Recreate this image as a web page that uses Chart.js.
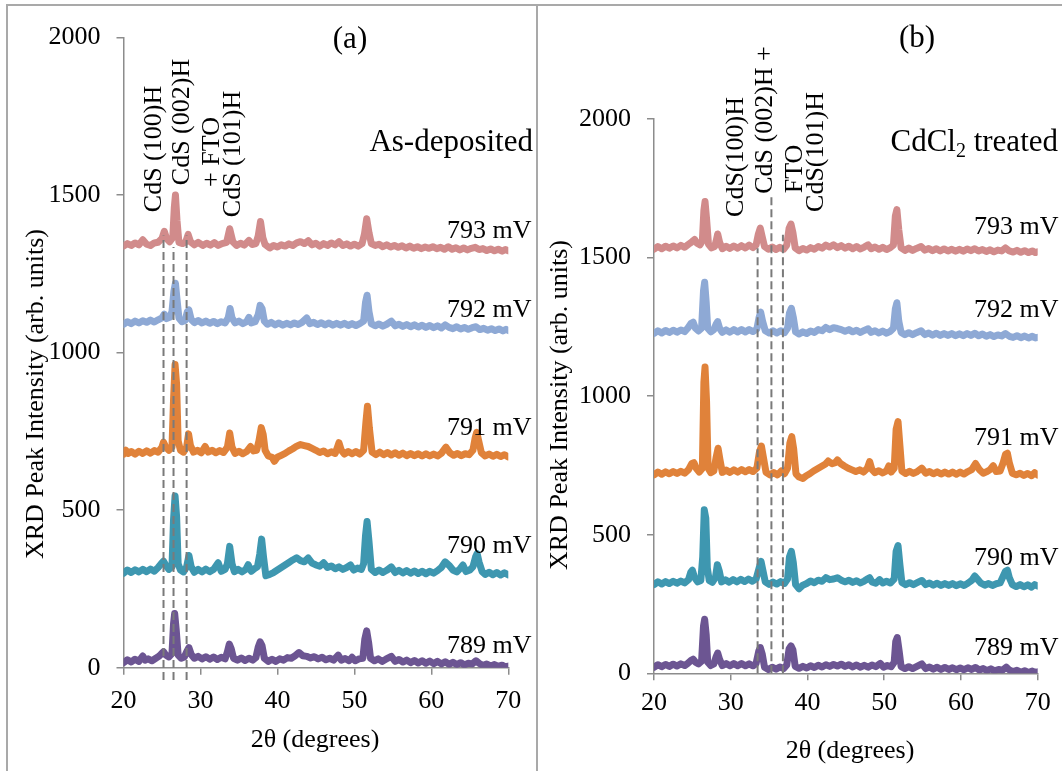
<!DOCTYPE html>
<html lang="en">
<head>
  <meta charset="UTF-8" />
  <title>XRD patterns of CdS layers</title>
  <script src="https://cdn.jsdelivr.net/npm/chart.js"></script>
  <style>
    body { margin:0; width:1062px; height:771px; overflow:hidden; background:#fff; position:relative;
           font-family:'Liberation Serif','Times New Roman',serif; color:#000; }
    .frame { position:absolute; left:6px; top:4px; width:1200px; height:900px; border:2px solid #a9a9a9; }
    .divider { position:absolute; left:536px; top:5px; width:2px; height:800px; background:#a9a9a9; }
    .panel { position:absolute; top:0; height:771px; }
    .t { position:absolute; white-space:nowrap; line-height:1; font-size:26px; }
    .c { transform:translate(-50%,-50%); }
    .v { transform:translate(-50%,-50%) rotate(-90deg); }
    .l { transform:translateY(-50%); }
    .big { font-size:31px; }
  </style>
</head>
<body>
  <div class="frame"></div>
  <div class="divider"></div>
  <div class="panel" style="left:0;width:537px"><canvas id="chartA"></canvas></div>
  <div class="panel" style="left:537px;width:525px"><canvas id="chartB"></canvas></div>

  <!-- panel (a) texts -->
  <div class="t v" style="left:34.5px;top:394px">XRD Peak Intensity (arb. units)</div>
  <div class="t c" style="left:315px;top:739px">2θ (degrees)</div>
  <div class="t big c" style="left:350px;top:37px">(a)</div>
  <div class="t big l" style="right:529px;top:140px">As-deposited</div>
  <div class="t l" style="left:447px;top:230px">793 mV</div>
  <div class="t l" style="left:447px;top:309px">792 mV</div>
  <div class="t l" style="left:447px;top:427px">791 mV</div>
  <div class="t l" style="left:447px;top:545px">790 mV</div>
  <div class="t l" style="left:447px;top:645px">789 mV</div>
  <div class="t v" style="left:153px;top:149px">CdS (100)H</div>
  <div class="t v" style="left:181px;top:122px">CdS (002)H</div>
  <div class="t v" style="left:211px;top:152px">+ FTO</div>
  <div class="t v" style="left:232px;top:154px">CdS (101)H</div>

  <!-- panel (b) texts -->
  <div class="t v" style="left:559px;top:405px">XRD Peak Intensity (arb. units)</div>
  <div class="t c" style="left:850px;top:750px">2θ (degrees)</div>
  <div class="t big c" style="left:917px;top:36px">(b)</div>
  <div class="t big l" style="right:4px;top:142px">CdCl<sub style="font-size:20px;vertical-align:-6px">2</sub> treated</div>
  <div class="t l" style="left:974px;top:226px">793 mV</div>
  <div class="t l" style="left:974px;top:309px">792 mV</div>
  <div class="t l" style="left:974px;top:437px">791 mV</div>
  <div class="t l" style="left:974px;top:557px">790 mV</div>
  <div class="t l" style="left:974px;top:647px">789 mV</div>
  <div class="t v" style="left:735px;top:157px">CdS(100)H</div>
  <div class="t v" style="left:764px;top:120px">CdS (002)H +</div>
  <div class="t v" style="left:794px;top:169px">FTO</div>
  <div class="t v" style="left:815px;top:152px">CdS(101)H</div>

  <script>
    // series labels and colours (top to bottom)
    const voltages = ['793 mV', '792 mV', '791 mV', '790 mV', '789 mV'];
    const colors = ['#d18b8b', '#8ea9d5', '#e0823a', '#3e97b0', '#6c5592'];

    // (a) as-deposited: [2theta, intensity]
    const a793 = [[20,1338],[20.5,1346],[21,1340],[21.5,1348],[22,1342],[22.5,1358],[23,1344],[23.5,1340],[24,1348],[24.5,1350],[25.0,1362],[25.3,1385],[25.6,1362],[26.0,1352],[26.4,1365],[26.6,1460],[26.75,1500],[26.95,1420],[27.2,1350],[27.7,1346],[28.1,1352],[28.4,1375],[28.7,1352],[29.2,1342],[29.7,1350],[30.3,1340],[30.8,1347],[31.3,1341],[31.8,1349],[32.3,1340],[32.8,1346],[33.4,1350],[33.8,1393],[34.2,1352],[34.7,1340],[35.2,1347],[35.7,1341],[36.3,1356],[36.7,1343],[37.2,1346],[37.5,1370],[37.8,1416],[38.1,1365],[38.4,1343],[39,1332],[39.5,1340],[40,1335],[40.5,1342],[41,1338],[41.5,1345],[42,1340],[42.5,1348],[43,1352],[43.5,1346],[44,1355],[44.5,1342],[45,1347],[45.5,1338],[46,1346],[46.5,1340],[47,1348],[47.5,1342],[48,1352],[48.5,1340],[49,1345],[49.5,1338],[50,1344],[50.5,1338],[51,1346],[51.3,1375],[51.6,1425],[51.9,1380],[52.2,1346],[52.7,1340],[53.2,1344],[53.7,1336],[54.2,1342],[54.7,1335],[55.2,1340],[55.7,1334],[56.2,1339],[56.7,1332],[57.2,1338],[57.7,1331],[58.2,1336],[58.7,1330],[59.2,1335],[59.7,1331],[60.2,1336],[60.7,1330],[61.2,1334],[61.7,1328],[62.2,1336],[62.7,1328],[63.2,1333],[63.7,1326],[64.2,1332],[64.7,1326],[65.2,1331],[65.7,1334],[66.2,1327],[66.7,1330],[67.2,1324],[67.7,1329],[68.2,1323],[68.7,1328],[69.2,1322],[69.6,1327],[70,1323]];
    const a792 = [[20,1090],[20.5,1098],[21,1092],[21.5,1100],[22,1094],[22.5,1101],[23,1096],[23.5,1103],[24,1097],[24.5,1104],[25,1110],[25.3,1122],[25.6,1108],[26.0,1112],[26.3,1130],[26.55,1195],[26.75,1220],[26.95,1170],[27.2,1110],[27.6,1098],[28.0,1102],[28.3,1130],[28.5,1135],[28.8,1105],[29.2,1095],[29.7,1102],[30.2,1094],[30.7,1100],[31.2,1093],[31.7,1099],[32.2,1092],[32.7,1098],[33.2,1094],[33.6,1110],[33.85,1140],[34.1,1110],[34.5,1094],[35,1100],[35.5,1092],[36,1098],[36.3,1112],[36.6,1094],[37.1,1098],[37.5,1120],[37.75,1150],[38.0,1140],[38.3,1100],[38.7,1090],[39.2,1096],[39.7,1088],[40.2,1094],[40.7,1087],[41.2,1093],[41.7,1088],[42.2,1094],[42.7,1089],[43.2,1096],[43.8,1110],[44.2,1092],[44.7,1096],[45.2,1089],[45.7,1095],[46.2,1088],[46.7,1094],[47.2,1087],[47.7,1093],[48.2,1087],[48.7,1093],[49.2,1086],[49.7,1092],[50.2,1086],[50.7,1092],[51.2,1100],[51.45,1160],[51.65,1182],[51.9,1130],[52.2,1092],[52.7,1085],[53.2,1091],[53.7,1084],[54.2,1090],[54.8,1100],[55.3,1085],[55.8,1090],[56.3,1083],[56.8,1089],[57.3,1082],[57.8,1088],[58.3,1081],[58.8,1087],[59.3,1080],[59.8,1086],[60.3,1079],[60.8,1085],[61.3,1078],[61.8,1088],[62.3,1080],[62.8,1076],[63.3,1082],[63.8,1075],[64.3,1080],[64.8,1074],[65.3,1079],[65.8,1082],[66.3,1073],[66.8,1077],[67.3,1071],[67.8,1076],[68.3,1070],[68.8,1075],[69.3,1069],[69.7,1074],[70,1070]];
    const a791 = [[20,678],[20.3,690],[20.6,680],[21,686],[21.5,678],[22,687],[22.5,680],[23,688],[23.5,681],[24,689],[24.5,684],[25,700],[25.2,716],[25.5,700],[25.9,690],[26.3,700],[26.5,850],[26.7,962],[26.9,900],[27.1,720],[27.4,690],[27.8,684],[28.2,700],[28.45,742],[28.7,705],[29.1,684],[29.6,690],[30.1,682],[30.6,702],[31,684],[31.5,690],[32,682],[32.5,689],[33,683],[33.5,700],[33.8,745],[34.1,700],[34.5,680],[35,687],[35.5,679],[36,686],[36.5,702],[36.9,688],[37.3,690],[37.6,720],[37.9,762],[38.15,740],[38.4,690],[38.8,672],[39.3,668],[39.6,655],[40,668],[40.5,674],[41,680],[41.5,688],[42,695],[42.5,703],[43,708],[43.5,705],[44,702],[44.5,696],[45,690],[45.5,683],[46,688],[46.5,679],[47,685],[47.5,680],[47.8,700],[48.0,714],[48.3,690],[48.7,678],[49.2,686],[49.7,679],[50.2,686],[50.7,678],[51.2,690],[51.5,780],[51.7,830],[51.95,760],[52.3,684],[52.8,676],[53.3,684],[53.8,676],[54.3,683],[54.8,675],[55.3,682],[55.8,674],[56.3,681],[56.8,673],[57.3,680],[57.8,673],[58.3,679],[58.8,672],[59.3,679],[59.8,672],[60.3,678],[60.8,672],[61.3,680],[61.9,700],[62.4,682],[62.9,674],[63.4,680],[63.9,673],[64.4,679],[64.9,676],[65.4,690],[65.7,730],[65.9,747],[66.15,720],[66.5,682],[67,672],[67.5,678],[68,671],[68.5,677],[69,670],[69.5,676],[70,669]];
    const a790 = [[20,300],[20.5,310],[21,302],[21.5,311],[22,304],[22.5,312],[23,305],[23.5,313],[24,306],[24.5,318],[24.9,330],[25.2,338],[25.5,325],[25.9,312],[26.3,320],[26.5,470],[26.7,545],[26.9,480],[27.1,330],[27.4,310],[27.8,304],[28.2,320],[28.5,356],[28.8,320],[29.2,303],[29.7,312],[30.2,304],[30.7,313],[31.2,305],[31.7,312],[32.3,333],[32.7,306],[33.2,312],[33.5,330],[33.8,385],[34.1,330],[34.4,305],[34.9,312],[35.4,304],[35.9,312],[36.2,327],[36.6,306],[37,314],[37.4,320],[37.7,360],[37.95,408],[38.2,350],[38.5,292],[39,296],[39.5,302],[40,310],[40.5,318],[41,326],[41.5,334],[42,342],[42.5,349],[43,340],[43.5,336],[44,348],[44.5,332],[45,326],[45.5,322],[46,333],[46.5,318],[47,323],[47.5,314],[48,320],[48.5,312],[49,318],[49.5,326],[49.9,310],[50.4,316],[50.9,312],[51.2,330],[51.45,420],[51.65,464],[51.9,400],[52.2,312],[52.7,302],[53.2,310],[53.7,302],[54.2,309],[54.8,320],[55.3,302],[55.8,309],[56.3,301],[56.8,308],[57.3,300],[57.8,307],[58.3,299],[58.8,306],[59.3,298],[59.8,306],[60.3,300],[60.8,308],[61.3,318],[61.8,336],[62.3,325],[62.8,310],[63.3,304],[63.8,316],[64.1,326],[64.5,305],[65,310],[65.4,320],[65.75,352],[65.95,362],[66.2,335],[66.6,305],[67,296],[67.5,303],[68,295],[68.5,302],[69,294],[69.5,301],[70,295]];
    const a789 = [[20,16],[20.5,25],[21,18],[21.5,27],[22,20],[22.5,37],[22.8,24],[23.2,28],[23.7,22],[24.2,30],[24.6,36],[25,46],[25.2,51],[25.5,40],[25.9,34],[26.3,45],[26.5,140],[26.65,172],[26.85,120],[27.1,40],[27.5,30],[27.9,34],[28.2,50],[28.5,64],[28.8,42],[29.2,30],[29.7,36],[30.2,28],[30.7,35],[31.2,27],[31.7,34],[32.2,26],[32.7,33],[33.2,28],[33.5,50],[33.75,75],[34.0,60],[34.3,30],[34.8,24],[35.3,31],[35.8,23],[36.3,30],[36.8,24],[37.2,32],[37.5,65],[37.75,82],[38.0,70],[38.3,30],[38.8,20],[39.3,27],[39.8,20],[40.3,28],[40.8,24],[41.3,32],[41.8,30],[42.3,38],[42.8,48],[43.3,38],[43.8,36],[44.3,31],[44.8,35],[45.3,28],[45.8,33],[46.3,25],[46.8,30],[47.3,24],[47.9,40],[48.3,24],[48.8,29],[49.3,22],[49.7,33],[50.1,22],[50.6,28],[51.1,30],[51.35,90],[51.6,117],[51.85,80],[52.1,30],[52.6,22],[53.1,28],[53.6,20],[54.1,27],[54.8,36],[55.3,20],[55.8,26],[56.3,18],[56.8,24],[57.3,16],[57.8,23],[58.3,15],[58.8,22],[59.3,14],[59.8,21],[60.3,13],[60.8,20],[61.3,12],[61.8,19],[62.3,11],[62.8,17],[63.3,10],[63.8,16],[64.3,9],[64.8,14],[65.3,12],[65.8,22],[66.2,14],[66.7,7],[67.2,12],[67.7,5],[68.2,10],[68.7,4],[69.2,8],[69.6,3],[70,5]];

    // (b) CdCl2 treated
    const b793 = [[20,1530],[20.5,1540],[21,1532],[21.5,1541],[22,1534],[22.5,1542],[23,1535],[23.5,1544],[24,1537],[24.5,1548],[24.9,1556],[25.3,1565],[25.6,1552],[26,1546],[26.3,1560],[26.5,1670],[26.65,1702],[26.85,1640],[27.1,1548],[27.5,1535],[27.9,1540],[28.1,1560],[28.3,1585],[28.55,1555],[28.9,1532],[29.4,1541],[29.9,1533],[30.4,1542],[30.9,1534],[31.4,1543],[31.9,1535],[32.4,1545],[32.9,1536],[33.3,1545],[33.6,1585],[33.85,1606],[34.1,1575],[34.4,1540],[34.9,1530],[35.4,1538],[35.9,1529],[36.4,1537],[36.9,1530],[37.3,1545],[37.6,1605],[37.85,1621],[38.1,1590],[38.4,1535],[38.9,1525],[39.4,1533],[39.9,1527],[40.4,1536],[40.9,1530],[41.4,1540],[41.9,1534],[42.4,1545],[42.9,1538],[43.4,1546],[43.9,1536],[44.4,1543],[44.9,1534],[45.4,1541],[45.9,1532],[46.4,1540],[46.9,1531],[47.4,1538],[47.9,1546],[48.3,1532],[48.8,1538],[49.3,1530],[49.8,1537],[50.3,1529],[50.8,1536],[51.2,1545],[51.45,1650],[51.65,1673],[51.9,1600],[52.2,1535],[52.7,1526],[53.2,1534],[53.7,1526],[54.2,1533],[54.8,1540],[55.3,1527],[55.8,1533],[56.3,1525],[56.8,1532],[57.3,1524],[57.8,1531],[58.3,1524],[58.8,1530],[59.3,1523],[59.8,1530],[60.3,1523],[60.8,1531],[61.3,1525],[61.8,1532],[62.3,1524],[62.8,1529],[63.3,1522],[63.8,1528],[64.3,1521],[64.8,1527],[65.3,1524],[65.8,1535],[66.3,1524],[66.8,1520],[67.3,1526],[67.8,1519],[68.3,1525],[68.8,1518],[69.3,1524],[69.7,1518],[70,1521]];
    const b792 = [[20,1226],[20.5,1236],[21,1228],[21.5,1237],[22,1230],[22.5,1238],[23,1231],[23.5,1239],[24,1233],[24.4,1245],[24.8,1262],[25.1,1267],[25.4,1245],[25.8,1235],[26.2,1245],[26.45,1380],[26.6,1411],[26.8,1340],[27.0,1245],[27.4,1232],[27.8,1240],[28.1,1260],[28.3,1269],[28.55,1245],[28.9,1230],[29.4,1239],[29.9,1231],[30.4,1240],[30.9,1232],[31.4,1240],[31.9,1232],[32.4,1240],[32.9,1233],[33.4,1242],[33.7,1285],[33.9,1303],[34.15,1270],[34.5,1236],[35,1228],[35.5,1236],[36,1228],[36.5,1236],[37,1229],[37.4,1245],[37.65,1300],[37.9,1317],[38.15,1285],[38.45,1232],[38.9,1224],[39.4,1232],[39.9,1226],[40.4,1235],[40.9,1230],[41.4,1240],[41.9,1236],[42.4,1248],[42.9,1240],[43.4,1247],[43.9,1244],[44.4,1240],[44.9,1234],[45.4,1240],[45.9,1232],[46.4,1238],[46.9,1230],[47.4,1237],[47.9,1243],[48.3,1230],[48.8,1236],[49.3,1228],[49.8,1235],[50.3,1227],[50.8,1234],[51.2,1245],[51.45,1315],[51.65,1337],[51.9,1270],[52.2,1230],[52.7,1222],[53.2,1229],[53.7,1222],[54.2,1229],[54.8,1236],[55.3,1222],[55.8,1228],[56.3,1220],[56.8,1227],[57.3,1219],[57.8,1226],[58.3,1219],[58.8,1226],[59.3,1218],[59.8,1225],[60.3,1218],[60.8,1226],[61.3,1219],[61.8,1227],[62.3,1218],[62.8,1224],[63.3,1216],[63.8,1222],[64.3,1215],[64.8,1221],[65.3,1217],[65.8,1226],[66.3,1216],[66.8,1212],[67.3,1218],[67.8,1211],[68.3,1217],[68.8,1210],[69.3,1216],[69.7,1210],[70,1212]];
    const b791 = [[20,716],[20.5,726],[21,718],[21.5,727],[22,720],[22.5,728],[23,721],[23.5,729],[24,722],[24.5,735],[24.9,756],[25.2,760],[25.5,740],[25.9,726],[26.3,740],[26.5,1050],[26.65,1105],[26.85,980],[27.05,740],[27.4,724],[27.8,730],[28.1,780],[28.35,812],[28.6,770],[28.9,725],[29.4,733],[29.9,725],[30.4,734],[30.9,726],[31.4,735],[31.9,727],[32.4,735],[32.9,728],[33.4,740],[33.75,800],[34.0,820],[34.25,780],[34.6,725],[35.1,716],[35.6,724],[36.1,716],[36.6,730],[37,720],[37.4,740],[37.7,830],[37.95,854],[38.2,810],[38.5,720],[38.9,708],[39.4,703],[39.8,712],[40.3,720],[40.8,730],[41.3,738],[41.8,746],[42.3,754],[42.7,766],[43.2,756],[43.6,760],[43.9,770],[44.3,757],[44.8,748],[45.3,740],[45.8,734],[46.3,728],[46.8,734],[47.3,726],[47.8,740],[48.1,764],[48.4,735],[48.8,724],[49.3,731],[49.8,723],[50.3,730],[50.6,748],[50.9,726],[51.3,740],[51.55,880],[51.8,908],[52.05,820],[52.3,730],[52.8,721],[53.3,729],[53.8,721],[54.3,728],[54.9,740],[55.4,722],[55.9,728],[56.4,720],[56.9,727],[57.4,719],[57.9,726],[58.4,719],[58.9,726],[59.4,718],[59.9,726],[60.4,719],[60.9,728],[61.4,735],[61.9,757],[62.4,735],[62.9,722],[63.4,728],[63.8,735],[64.2,749],[64.6,728],[65.1,730],[65.5,760],[65.8,790],[66.05,794],[66.3,760],[66.7,722],[67.2,716],[67.7,722],[68.2,714],[68.7,721],[69.2,713],[69.6,724],[70,715]];
    const b790 = [[20,320],[20.5,330],[21,322],[21.5,331],[22,324],[22.5,332],[23,325],[23.5,333],[24,326],[24.5,338],[24.8,365],[25.0,372],[25.3,345],[25.7,330],[26.1,335],[26.35,420],[26.55,590],[26.75,560],[26.95,380],[27.2,335],[27.6,328],[28,345],[28.25,392],[28.5,370],[28.8,330],[29.3,337],[29.8,329],[30.3,338],[30.8,330],[31.3,339],[31.8,331],[32.3,340],[32.8,332],[33.3,340],[33.7,380],[33.95,404],[34.2,370],[34.5,330],[35,321],[35.5,329],[36,322],[36.5,331],[37,324],[37.4,340],[37.65,420],[37.9,440],[38.15,400],[38.45,320],[38.9,305],[39.4,318],[39.9,324],[40.4,333],[40.9,327],[41.4,336],[41.9,332],[42.4,345],[42.9,338],[43.4,340],[43.9,345],[44.4,336],[44.9,330],[45.4,336],[45.9,328],[46.4,334],[46.9,326],[47.4,333],[47.8,340],[48.1,345],[48.4,330],[48.9,325],[49.4,338],[49.8,326],[50.3,332],[50.8,326],[51.3,340],[51.55,440],[51.8,461],[52.05,390],[52.3,328],[52.8,320],[53.3,327],[53.8,320],[54.3,327],[54.9,335],[55.4,320],[55.9,326],[56.4,318],[56.9,325],[57.4,317],[57.9,324],[58.4,317],[58.9,324],[59.4,316],[59.9,323],[60.4,317],[60.9,325],[61.4,335],[61.8,351],[62.2,338],[62.6,325],[63.1,318],[63.6,324],[64.1,317],[64.6,323],[65.1,326],[65.5,350],[65.8,368],[66.05,372],[66.3,345],[66.7,320],[67.2,313],[67.7,320],[68.2,312],[68.7,319],[69.2,311],[69.6,320],[70,315]];
    const b789 = [[20,22],[20.5,31],[21,24],[21.5,32],[22,25],[22.5,33],[23,26],[23.5,34],[24,28],[24.4,36],[24.8,46],[25.1,51],[25.4,40],[25.8,34],[26.2,44],[26.45,170],[26.6,195],[26.8,140],[27.0,40],[27.4,28],[27.8,34],[28.1,60],[28.3,73],[28.55,50],[28.9,28],[29.4,35],[29.9,27],[30.4,35],[30.9,27],[31.4,35],[31.9,27],[32.4,34],[32.9,27],[33.3,35],[33.65,80],[33.85,93],[34.1,70],[34.4,22],[34.9,14],[35.4,22],[35.9,15],[36.4,23],[36.9,17],[37.3,30],[37.6,88],[37.85,99],[38.1,85],[38.4,25],[38.9,18],[39.4,25],[39.9,19],[40.4,27],[40.9,21],[41.4,29],[41.9,23],[42.4,31],[42.9,25],[43.4,32],[43.9,26],[44.4,33],[44.9,25],[45.4,31],[45.9,23],[46.4,30],[46.9,22],[47.4,29],[47.9,22],[48.4,30],[48.9,24],[49.5,36],[49.9,22],[50.4,28],[50.9,24],[51.3,40],[51.5,115],[51.7,129],[51.95,80],[52.2,24],[52.7,17],[53.2,24],[53.7,17],[54.2,24],[54.9,34],[55.4,17],[55.9,23],[56.4,15],[56.9,22],[57.4,14],[57.9,21],[58.4,14],[58.9,20],[59.4,13],[59.9,19],[60.4,13],[60.9,20],[61.4,14],[61.9,21],[62.4,12],[62.9,17],[63.4,10],[63.9,16],[64.4,9],[64.9,14],[65.4,11],[65.9,22],[66.3,12],[66.8,6],[67.3,11],[67.8,4],[68.3,9],[68.8,3],[69.3,8],[69.7,3],[70,5]];

    // dashed reference lines: position, top and bottom intensity
    const aDashX = [25.2, 26.5, 28.2];
    const aDashTop = [1372, 1335, 1372];
    const aDashBottom = -39;
    const bDashX = [33.5, 35.3, 36.8];
    const bDashTop = [1534, 1726, 1582];
    const bDashBottom = 0;

    Chart.defaults.font.family = "'Liberation Serif', 'Times New Roman', serif";
    const axisGray = '#8c8c8c';

    function buildChart(canvasId, series, dashX, dashTop, dashBottom, box) {
      const datasets = [];
      dashX.forEach((x, i) => datasets.push({
        label: 'ref ' + x, data: [[x, dashBottom], [x, dashTop[i]]],
        borderColor: '#7a7a7a', borderWidth: 2, borderDash: [8, 4], pointRadius: 0, clip: false
      }));
      series.forEach((s, i) => datasets.push({
        label: voltages[i], data: s, borderColor: colors[i], borderWidth: 7,
        pointRadius: 0, tension: 0, borderJoinStyle: 'round', borderCapStyle: 'round'
      }));

      return new Chart(document.getElementById(canvasId), {
        type: 'line',
        data: { datasets },
        options: {
          animation: false,
          responsive: true,
          maintainAspectRatio: false,
          layout: { padding: { left: 0, top: box.top, right: box.right, bottom: box.bottom } },
          plugins: { legend: { display: false }, tooltip: { enabled: false } },
          scales: {
            x: {
              type: 'linear', min: 20, max: 70,
              ticks: { stepSize: 10, padding: box.xPad, color: '#000', font: { size: 26 } },
              grid: { drawOnChartArea: false, tickLength: 7, color: axisGray, lineWidth: 1.5 },
              border: { color: axisGray, width: 1.5 },
              afterFit: s => { s.height = 60; }
            },
            y: {
              min: 0, max: 2000,
              ticks: { stepSize: 500, padding: 16, color: '#000', font: { size: 26 }, callback: v => String(v) },
              grid: { drawOnChartArea: false, tickLength: 7, color: axisGray, lineWidth: 1.5 },
              border: { color: axisGray, width: 1.5 },
              afterFit: s => { s.width = box.yw; }
            }
          }
        }
      });
    }

    buildChart('chartA', [a793, a792, a791, a790, a789], aDashX, aDashTop, aDashBottom,
      { top: 37.5, right: 28.7, bottom: 43.3, yw: 123.5, xPad: 11 });
    buildChart('chartB', [b793, b792, b791, b790, b789], bDashX, bDashTop, bDashBottom,
      { top: 119, right: 24.3, bottom: 37.7, yw: 117, xPad: 7 });
  </script>
</body>
</html>
